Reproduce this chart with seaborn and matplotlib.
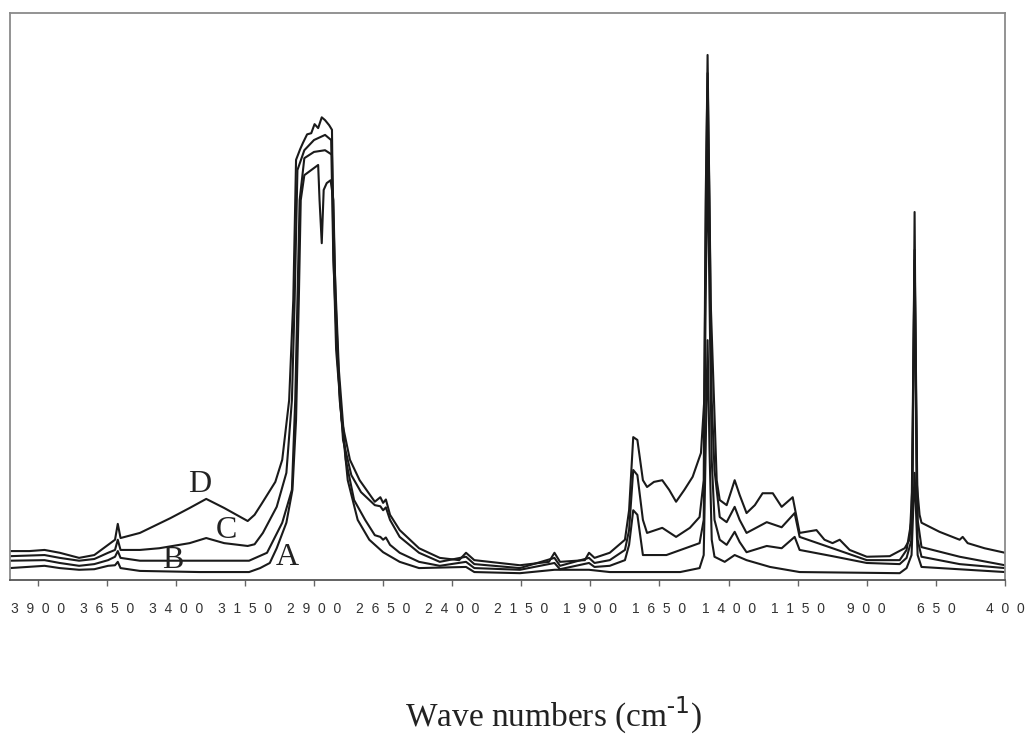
import numpy as np
import pandas as pd
import matplotlib
matplotlib.use("Agg")
import matplotlib.pyplot as plt
import seaborn as sns

# spectra (wavenumber cm-1, absorbance in arbitrary units)
wn_d = [4000, 3930, 3875, 3820, 3750, 3695, 3645, 3620, 3610, 3600, 3530, 3420, 3350, 3290,
        3225, 3140, 3115, 3090, 3040, 3015, 2990, 2975, 2965, 2950, 2940, 2925, 2910, 2898,
        2885, 2872, 2860, 2845, 2835, 2830, 2820, 2800, 2770, 2735, 2680, 2660, 2650, 2640,
        2625, 2590, 2520, 2445, 2375, 2350, 2320, 2155, 2050, 2030, 2010, 1920, 1905, 1885,
        1830, 1775, 1760, 1745, 1730, 1710, 1695, 1670, 1640, 1615, 1590, 1560, 1530, 1500,
        1488, 1480, 1476, 1472, 1465, 1454, 1443, 1432, 1407, 1389, 1378, 1360, 1335, 1305,
        1277, 1240, 1208, 1168, 1143, 1082, 1053, 1024, 998, 962, 900, 817, 763, 745, 734,
        727, 720, 709, 702, 637, 564, 553, 535, 474, 400]
ab_d = [5.1, 5.1, 5.3, 4.8, 3.9, 4.4, 6.2, 7.1, 9.9, 7.4, 8.3, 10.9, 12.7, 14.3,
        12.7, 10.4, 11.5, 13.4, 17.3, 21.2, 31.7, 49.4, 74.1, 76.0, 77.1, 78.6, 78.8, 80.4,
        79.7, 81.6, 81.1, 80.2, 79.4, 58.2, 40.6, 28.2, 21.2, 17.6, 13.8, 14.6, 13.6, 14.2,
        11.5, 8.8, 5.6, 3.9, 3.5, 4.8, 3.5, 2.6, 3.2, 4.8, 3.2, 3.5, 4.8, 3.9,
        4.8, 7.1, 12.3, 25.2, 24.7, 17.6, 16.4, 17.3, 17.6, 15.9, 13.8, 15.9, 18.2, 22.4,
        31.7, 75.8, 92.6, 75.8, 49.4, 33.5, 17.6, 14.1, 13.2, 15.9, 17.6, 15.0, 11.8, 13.2,
        15.3, 15.3, 12.9, 14.6, 8.3, 8.8, 7.1, 6.5, 7.1, 5.3, 4.1, 4.2, 5.6, 7.1, 17.6,
        64.9, 17.6, 11.5, 10.1, 8.5, 7.1, 7.6, 6.5, 5.6, 4.8]

wn_c = [4000, 3875, 3820, 3750, 3695, 3645, 3620, 3610, 3600, 3530, 3460, 3350, 3290, 3225,
        3140, 3115, 3085, 3035, 3000, 2980, 2970, 2960, 2935, 2900, 2860, 2838, 2830, 2815,
        2795, 2765, 2730, 2680, 2660, 2650, 2640, 2625, 2590, 2520, 2445, 2350, 2320, 2155,
        2030, 2010, 1905, 1885, 1830, 1775, 1760, 1745, 1730, 1710, 1695, 1640, 1590, 1540,
        1505, 1490, 1483, 1476, 1469, 1461, 1451, 1432, 1407, 1378, 1360, 1335, 1262, 1208,
        1161, 1143, 1024, 900, 781, 756, 738, 727, 716, 702, 564, 400]
ab_c = [4.2, 4.4, 3.9, 3.4, 3.7, 4.8, 5.3, 7.1, 5.3, 5.3, 5.6, 6.5, 7.4, 6.5,
        6.0, 6.3, 8.3, 12.9, 18.9, 31.7, 49.4, 72.3, 75.8, 77.6, 78.5, 77.6, 56.4, 38.8,
        24.7, 18.5, 15.5, 13.2, 13.0, 12.3, 12.8, 10.6, 7.6, 4.8, 3.2, 4.1, 2.8, 2.1,
        3.9, 2.5, 3.9, 3.0, 3.5, 5.3, 8.8, 19.4, 18.5, 10.6, 8.3, 9.2, 7.6, 9.2,
        11.1, 17.6, 67.0, 89.4, 67.0, 31.7, 19.4, 11.1, 10.2, 12.9, 10.6, 8.3, 10.2, 9.3,
        11.8, 7.6, 5.6, 3.5, 3.5, 5.3, 10.6, 58.2, 10.6, 5.8, 4.1, 2.6]

wn_b = [4000, 3875, 3820, 3750, 3695, 3645, 3620, 3610, 3600, 3530, 3315, 3135, 3070, 3015,
        2980, 2968, 2960, 2952, 2935, 2900, 2860, 2835, 2825, 2810, 2785, 2755, 2715, 2680,
        2660, 2650, 2640, 2625, 2590, 2520, 2445, 2350, 2320, 2155, 2030, 2010, 1905, 1885,
        1830, 1775, 1760, 1745, 1730, 1710, 1625, 1505, 1490, 1483, 1476, 1469, 1461, 1451,
        1432, 1407, 1378, 1360, 1335, 1262, 1208, 1161, 1143, 1024, 900, 781, 756, 738, 727,
        716, 702, 564, 400]
ab_b = [3.4, 3.5, 3.0, 2.5, 2.8, 3.5, 4.1, 5.1, 3.9, 3.4, 3.4, 3.4, 4.8, 10.1,
        15.9, 31.7, 49.4, 67.0, 74.4, 75.5, 75.8, 75.0, 54.7, 37.0, 21.2, 14.1, 10.6, 7.9,
        7.6, 7.1, 7.5, 6.2, 4.8, 3.2, 2.5, 3.2, 2.1, 1.8, 3.0, 1.9, 3.0, 2.3,
        2.5, 3.5, 6.2, 12.3, 11.5, 4.4, 4.4, 6.5, 10.6, 49.4, 75.8, 49.4, 21.2, 10.6,
        7.1, 6.2, 8.5, 6.7, 4.9, 6.0, 5.6, 7.6, 5.3, 4.2, 3.0, 2.8, 3.9, 7.1, 56.4,
        7.1, 4.1, 2.8, 2.1]

wn_a = [4000, 3875, 3820, 3750, 3695, 3645, 3620, 3610, 3600, 3530, 3315, 3135, 3095, 3060,
        3035, 3000, 2978, 2965, 2955, 2948, 2935, 2910, 2885, 2880, 2872, 2865, 2854, 2840,
        2830, 2822, 2807, 2778, 2742, 2700, 2650, 2590, 2520, 2350, 2320, 2155, 2030, 1905,
        1830, 1575, 1505, 1490, 1483, 1476, 1469, 1461, 1451, 1414, 1378, 1335, 1250, 1143,
        781, 756, 738, 727, 716, 702, 400]
ab_a = [2.1, 2.5, 2.1, 1.8, 1.9, 2.5, 2.6, 3.2, 2.1, 1.6, 1.4, 1.4, 2.1, 3.0,
        5.6, 10.1, 15.9, 28.2, 49.4, 67.0, 71.4, 72.3, 73.2, 67.0, 59.4, 68.8, 70.0, 70.5,
        67.0, 49.4, 31.7, 17.6, 10.6, 7.1, 4.9, 3.2, 2.1, 2.3, 1.4, 1.2, 1.8, 1.8,
        1.4, 1.4, 2.1, 4.4, 22.9, 42.3, 22.9, 7.1, 4.1, 3.2, 4.4, 3.5, 2.3, 1.4,
        1.2, 2.1, 4.4, 18.9, 4.4, 2.3, 1.4]

# curve letters and where they sit
curve_names = ["D", "C", "B", "A"]
name_wn = [3314, 3216, 3412, 2995]
name_ab = [16.8, 8.8, 3.5, 3.9]

tick_vals = [3900, 3650, 3400, 3150, 2900, 2650, 2400, 2150, 1900, 1650, 1400, 1150, 900, 650, 400]

sns.set_style("white")

fig = plt.figure(figsize=(10.3, 7.35), dpi=100)
ax = fig.add_axes([0.0097, 0.2109, 0.966, 0.7714])

for wn, ab in [(wn_d, ab_d), (wn_c, ab_c), (wn_b, ab_b), (wn_a, ab_a)]:
    df = pd.DataFrame({"wn": wn, "ab": ab})
    sns.lineplot(data=df, x="wn", y="ab", ax=ax, color="#1a1a1a", linewidth=1.5,
                 estimator=None, sort=False)

for name, x, y in zip(curve_names, name_wn, name_ab):
    ax.text(x, y, name, fontsize=23, family="Liberation Serif", color="#222222",
            ha="center", va="center")

ax.set_xlim(4000, 400)
ax.set_ylim(0, 100)
ax.set_yticks([])
ax.set_xticks(tick_vals)
ax.set_xticklabels(["  ".join(str(v)) for v in tick_vals], family="Liberation Sans",
                   fontsize=10, color="#333333")
ax.tick_params(axis="x", direction="out", length=4, width=1, color="#666666", pad=12,
               bottom=True)
ax.set_xlabel("")
ax.set_ylabel("")

for side in ["top", "left", "right"]:
    ax.spines[side].set_color("#8a8a8a")
    ax.spines[side].set_linewidth(1.3)
ax.spines["bottom"].set_color("#555555")
ax.spines["bottom"].set_linewidth(1.3)

fig.text(0.537, 0.027, "Wave numbers (cm$^{\\mathregular{\u2010}1}$)", family="Liberation Serif",
         fontsize=24, color="#222222", ha="center", va="center")

fig.savefig("out.png", dpi=100)
